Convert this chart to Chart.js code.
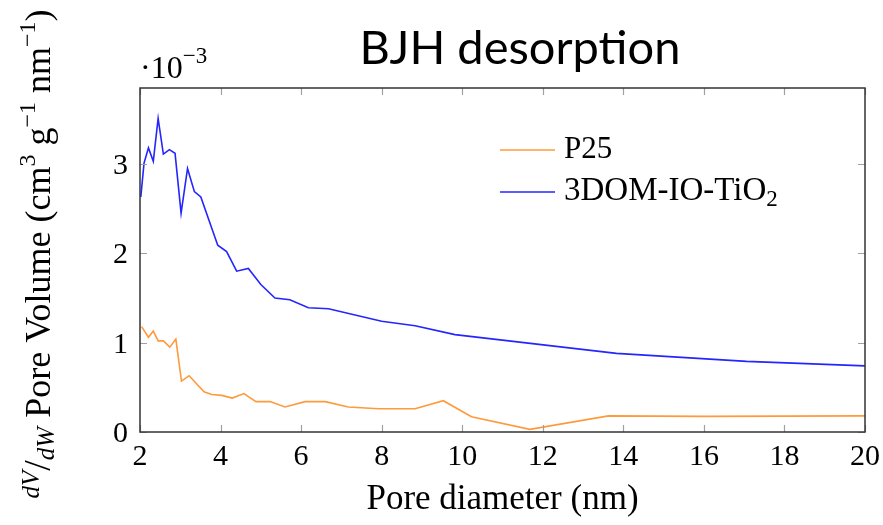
<!DOCTYPE html>
<html>
<head>
<meta charset="utf-8">
<script src="https://cdn.jsdelivr.net/npm/chart.js@4.4.1/dist/chart.umd.min.js"></script>
<style>
  html, body { margin: 0; padding: 0; background: #fff; }
  #wrap { width: 883px; height: 525px; }
</style>
</head>
<body>
<div id="wrap"><canvas id="myChart" width="883" height="525"></canvas></div>
<script>
// pore diameter (nm) and dV/dW in units of 1e-3 cm3 g-1 nm-1
const p25Diameter = [2.04, 2.21, 2.33, 2.45, 2.58, 2.74, 2.89, 3.03, 3.22, 3.59, 3.78, 4.03, 4.29, 4.58, 4.88, 5.23, 5.6, 6.1, 6.6, 7.17, 7.92, 8.83, 9.53, 10.23, 11.68, 13.63, 16.0, 20.0];
const p25Volume = [1.18, 1.06, 1.13, 1.02, 1.02, 0.95, 1.04, 0.57, 0.63, 0.45, 0.42, 0.41, 0.38, 0.43, 0.34, 0.34, 0.28, 0.34, 0.34, 0.28, 0.26, 0.26, 0.35, 0.17, 0.03, 0.18, 0.175, 0.18];

const domDiameter = [2.02, 2.1, 2.21, 2.33, 2.45, 2.58, 2.73, 2.87, 3.02, 3.18, 3.35, 3.51, 3.93, 4.15, 4.4, 4.69, 5.0, 5.35, 5.72, 6.18, 6.68, 8.0, 8.83, 9.82, 13.83, 17.06, 20.0];
const domVolume = [2.63, 3.01, 3.18, 3.03, 3.51, 3.11, 3.16, 3.12, 2.45, 2.95, 2.69, 2.63, 2.09, 2.02, 1.80, 1.83, 1.65, 1.50, 1.48, 1.39, 1.38, 1.24, 1.19, 1.09, 0.88, 0.79, 0.74];

const xTicks = [2, 4, 6, 8, 10, 12, 14, 16, 18, 20];
const yTicks = [0, 1, 2, 3];

const serif = "'Liberation Serif', serif";

function toPoints(xs, ys) {
  return xs.map((x, i) => ({ x: x, y: ys[i] }));
}

// draws a run of text pieces with their own font and vertical shift
function richText(ctx, parts, x, y, align) {
  let total = 0;
  parts.forEach(p => { ctx.font = p.font; total += ctx.measureText(p.t).width; });
  let cx = align === "center" ? x - total / 2 : x;
  parts.forEach(p => {
    ctx.font = p.font;
    ctx.fillText(p.t, cx, y + (p.dy || 0));
    cx += ctx.measureText(p.t).width;
  });
}

const decorations = {
  id: "decorations",
  afterDraw(chart) {
    const ctx = chart.ctx;
    const a = chart.chartArea;
    const xs = chart.scales.x, ys = chart.scales.y;
    ctx.save();

    // frame and inward ticks on every side
    ctx.strokeStyle = "#a0a0a0";
    ctx.lineWidth = 1.2;
    xTicks.forEach(t => {
      const px = Math.round(xs.getPixelForValue(t)) + 0.5;
      ctx.beginPath();
      ctx.moveTo(px, a.bottom); ctx.lineTo(px, a.bottom - 7);
      ctx.moveTo(px, a.top); ctx.lineTo(px, a.top + 7);
      ctx.stroke();
    });
    yTicks.forEach(t => {
      const py = Math.round(ys.getPixelForValue(t)) + 0.5;
      ctx.beginPath();
      ctx.moveTo(a.left, py); ctx.lineTo(a.left + 7, py);
      ctx.moveTo(a.right, py); ctx.lineTo(a.right - 7, py);
      ctx.stroke();
    });
    ctx.strokeStyle = "#333";
    ctx.lineWidth = 1.5;
    ctx.strokeRect(a.left, a.top, a.right - a.left, a.bottom - a.top);

    ctx.fillStyle = "#000";
    ctx.textBaseline = "alphabetic";

    // tick labels
    ctx.font = "30px " + serif;
    ctx.textAlign = "center";
    xTicks.forEach(t => ctx.fillText(String(t), xs.getPixelForValue(t), a.bottom + 33));
    ctx.textAlign = "right";
    yTicks.forEach(t => ctx.fillText(String(t), a.left - 12, ys.getPixelForValue(t) + 10));

    ctx.textAlign = "left";

    // title
    richText(ctx, [{ t: "BJH desorption", font: "47px Lato, 'Open Sans', sans-serif" }], 520, 64, "center");

    // scale multiplier
    richText(ctx, [
      { t: "\u00b710", font: "32px " + serif },
      { t: "\u22123", font: "23px " + serif, dy: -15 }
    ], a.left, 78, "left");

    // x axis title
    richText(ctx, [{ t: "Pore diameter (nm)", font: "35px " + serif }], (a.left + a.right) / 2, 509, "center");

    // y axis title, rotated
    ctx.save();
    ctx.translate(50, 254);
    ctx.rotate(-Math.PI / 2);
    const main = "36px " + serif;
    const it = "italic 25px " + serif;
    const sup = "24px " + serif;
    richText(ctx, [
      { t: "dV", font: it, dy: -11 },
      { t: "/", font: "38px " + serif },
      { t: "dW", font: it, dy: 4 },
      { t: " Pore Volume (cm", font: main },
      { t: "3", font: sup, dy: -15 },
      { t: " g", font: main },
      { t: "\u22121", font: sup, dy: -15 },
      { t: " nm", font: main },
      { t: "\u22121", font: sup, dy: -15 },
      { t: ")", font: main }
    ], 0, 0, "center");
    ctx.restore();

    // legend
    chart.data.datasets.forEach((ds, i) => {
      const ly = 150 + i * 42;
      ctx.strokeStyle = ds.borderColor;
      ctx.lineWidth = 1.5;
      ctx.beginPath();
      ctx.moveTo(500, ly); ctx.lineTo(555, ly);
      ctx.stroke();
      ctx.fillStyle = "#000";
      richText(ctx, ds.legendParts, 564, ly + 8, "left");
    });

    ctx.restore();
  }
};

const ctx = document.getElementById("myChart").getContext("2d");
const chart = new Chart(ctx, {
  type: "line",
  data: {
    datasets: [{
      label: "P25",
      legendParts: [{ t: "P25", font: "31px " + serif }],
      data: toPoints(p25Diameter, p25Volume),
      borderColor: "#ff9a3c",
      borderWidth: 1.6,
      pointRadius: 0,
      tension: 0,
      fill: false
    }, {
      label: "3DOM-IO-TiO2",
      legendParts: [
        { t: "3DOM-IO-TiO", font: "33px " + serif },
        { t: "2", font: "23px " + serif, dy: 6 }
      ],
      data: toPoints(domDiameter, domVolume),
      borderColor: "#2525ff",
      borderWidth: 1.6,
      pointRadius: 0,
      tension: 0,
      fill: false
    }]
  },
  options: {
    responsive: false,
    animation: false,
    layout: { padding: { left: 0, top: 88, right: 18, bottom: 0 } },
    plugins: { legend: { display: false }, tooltip: { enabled: false } },
    scales: {
      x: {
        type: "linear",
        min: 2,
        max: 20,
        afterBuildTicks: scale => { scale.ticks = xTicks.map(v => ({ value: v })); },
        afterFit: scale => { scale.height = 93; scale.paddingLeft = 0; scale.paddingRight = 0; },
        grid: { display: false, drawTicks: false },
        border: { display: false },
        ticks: { display: false }
      },
      y: {
        type: "linear",
        min: 0,
        max: 3.85,
        afterBuildTicks: scale => { scale.ticks = yTicks.map(v => ({ value: v })); },
        afterFit: scale => { scale.width = 140; scale.paddingTop = 0; scale.paddingBottom = 0; },
        grid: { display: false, drawTicks: false },
        border: { display: false },
        ticks: { display: false }
      }
    }
  },
  plugins: [decorations]
});
</script>
</body>
</html>
